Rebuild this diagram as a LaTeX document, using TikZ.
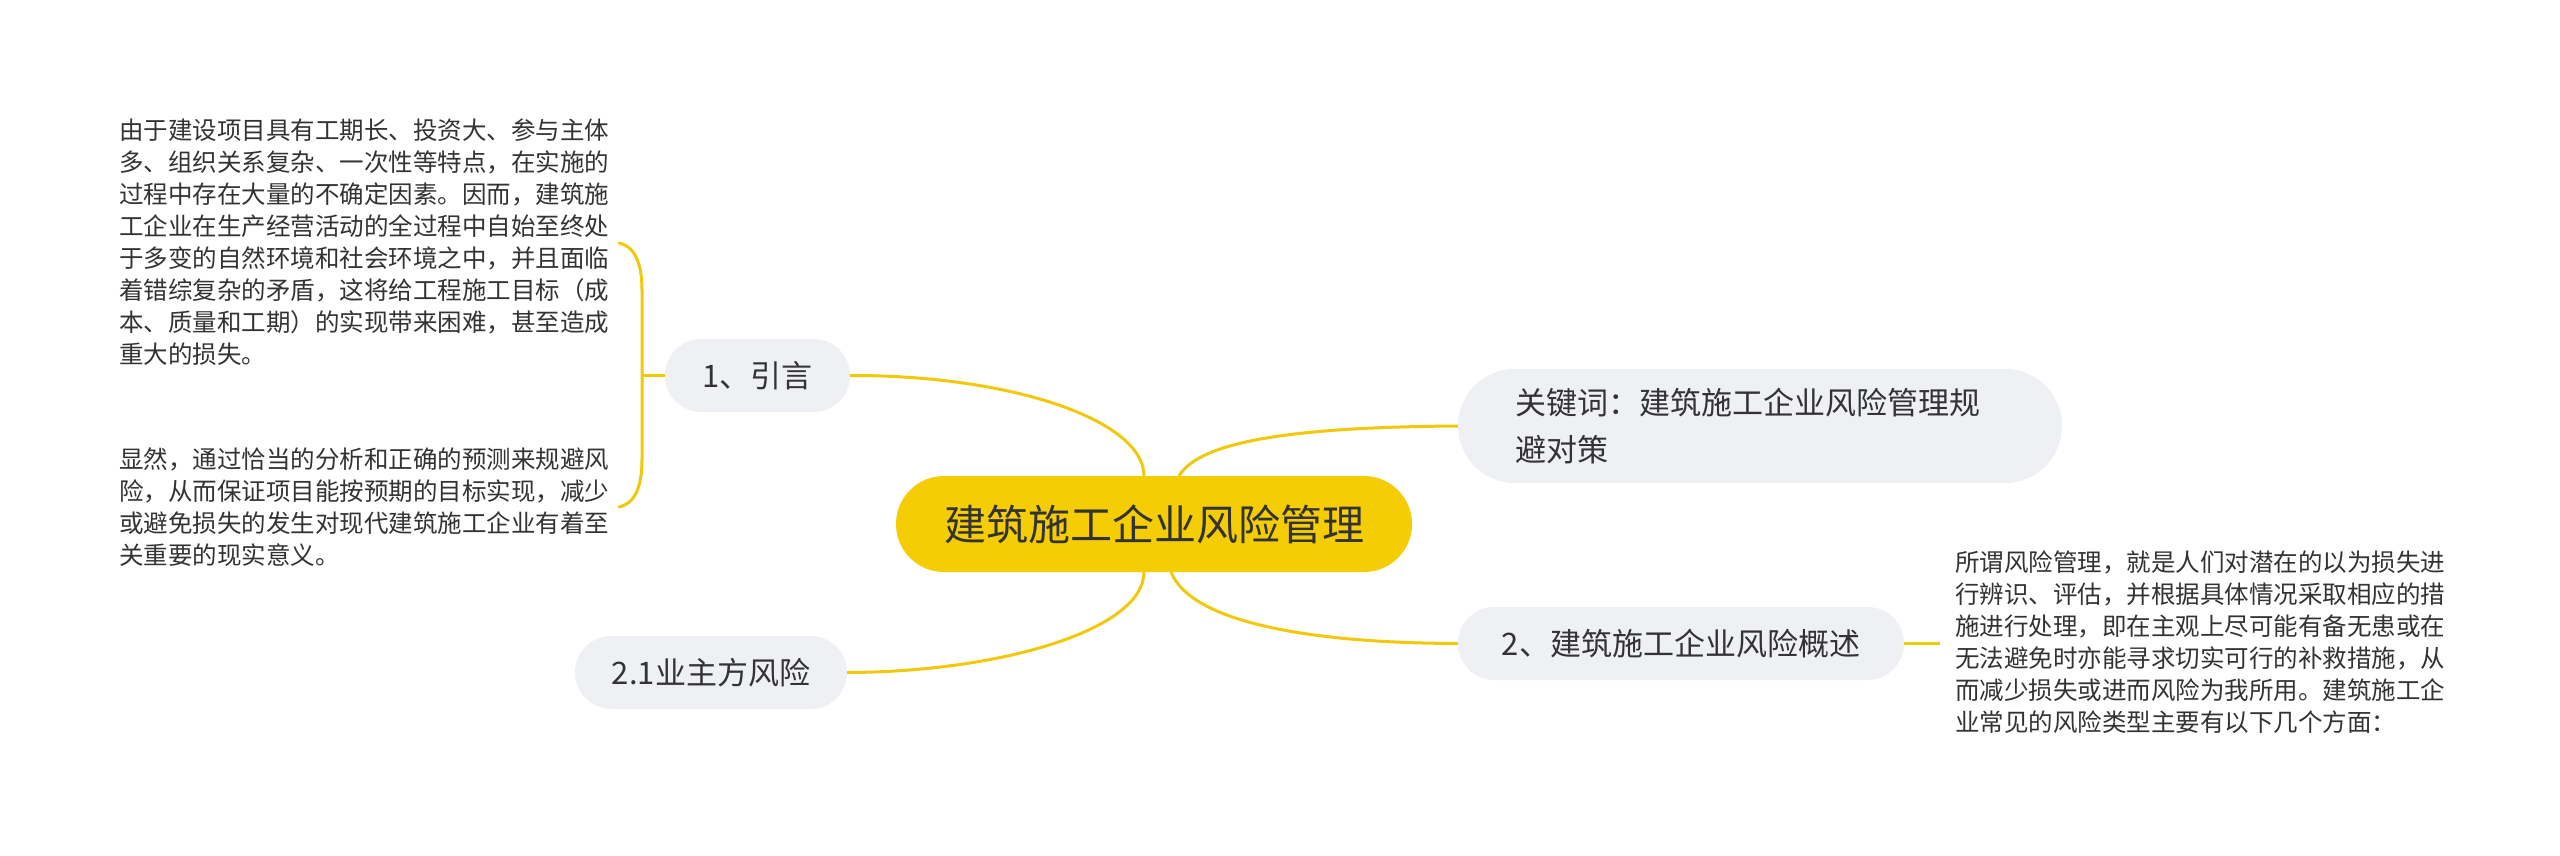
\documentclass[tikz,border=0pt]{standalone}
\usepackage{fontspec}
\setmainfont{Noto Sans CJK SC}
\definecolor{linecol}{HTML}{F2C80A}
\definecolor{maincol}{HTML}{F5CD05}
\definecolor{subcol}{HTML}{EEF0F3}
\definecolor{txtcol}{HTML}{333333}
\begin{document}
\begin{tikzpicture}[x=1pt,y=-1pt,
  conn/.style={draw=linecol,line width=3pt},
  mainbox/.style={fill=maincol,rounded corners=47.9pt,minimum width=516pt,minimum height=96pt,inner sep=0pt,text=txtcol,font=\fontsize{42}{50}\selectfont},
  subbox/.style={fill=subcol,rounded corners=36.4pt,minimum height=73pt,inner sep=0pt,text=txtcol,font=\fontsize{31}{40}\selectfont},
  para/.style={inner sep=0pt,anchor=north west,align=left,text=txtcol,font=\fontsize{24.5}{32}\selectfont}
]
\useasboundingbox (0,0) rectangle (2560,855);
\fill[white] (0,0) rectangle (2560,855);

\node[mainbox] (c) at (1154,524) {建筑施工企业风险管理};
\node[subbox,minimum width=185pt] (n1) at (757.5,375.5) {1、引言};
\node[subbox,minimum width=272pt] (n21) at (711,672.5) {2.1业主方风险};
\node[subbox,minimum width=446pt] (n2) at (1681,643.5) {2、建筑施工企业风险概述};
\node[subbox,minimum width=604pt,minimum height=114pt,rounded corners=56.9pt,text width=490pt,align=left,inner xsep=57pt,font=\fontsize{31}{47}\selectfont] (kw) at (1760,426) {关键词：建筑施工企业风险管理规\\避对策};

\node[para] (p1) at (119,119) {由于建设项目具有工期长、投资大、参与主体\\多、组织关系复杂、一次性等特点，在实施的\\过程中存在大量的不确定因素。因而，建筑施\\工企业在生产经营活动的全过程中自始至终处\\于多变的自然环境和社会环境之中，并且面临\\着错综复杂的矛盾，这将给工程施工目标（成\\本、质量和工期）的实现带来困难，甚至造成\\重大的损失。};
\node[para] (p2) at (119,448) {显然，通过恰当的分析和正确的预测来规避风\\险，从而保证项目能按预期的目标实现，减少\\或避免损失的发生对现代建筑施工企业有着至\\关重要的现实意义。};
\node[para] (p3) at (1955,551) {所谓风险管理，就是人们对潜在的以为损失进\\行辨识、评估，并根据具体情况采取相应的措\\施进行处理，即在主观上尽可能有备无患或在\\无法避免时亦能寻求切实可行的补救措施，从\\而减少损失或进而风险为我所用。建筑施工企\\业常见的风险类型主要有以下几个方面：};

\coordinate (ct1) at (1144,476);
\coordinate (ct2) at (1179,476);
\coordinate (cb1) at (1144,572);
\coordinate (cb2) at (1171,572);
\draw[conn] (n1.east) .. controls (1011,375) and (1144,420) .. (ct1);
\draw[conn] (ct2) .. controls (1200,440) and (1300,427) .. (kw.west);
\draw[conn] (cb1) .. controls (1144,630) and (1000,672) .. (n21.east);
\draw[conn] (cb2) .. controls (1190,620) and (1300,643) .. (n2.west);

\coordinate (r2) at (1940,643.5);
\draw[conn] (n2.east) -- (r2);

\coordinate (bt) at (619,243);
\coordinate (bb) at (619,507);
\coordinate (bm) at (642,375.5);
\draw[conn,line cap=round] (bt) .. controls (634,246) and (642,262) .. (642,290) -- (642,460) .. controls (642,488) and (634,504) .. (bb);
\draw[conn] (bm) -- (n1.west);
\end{tikzpicture}
\end{document}
